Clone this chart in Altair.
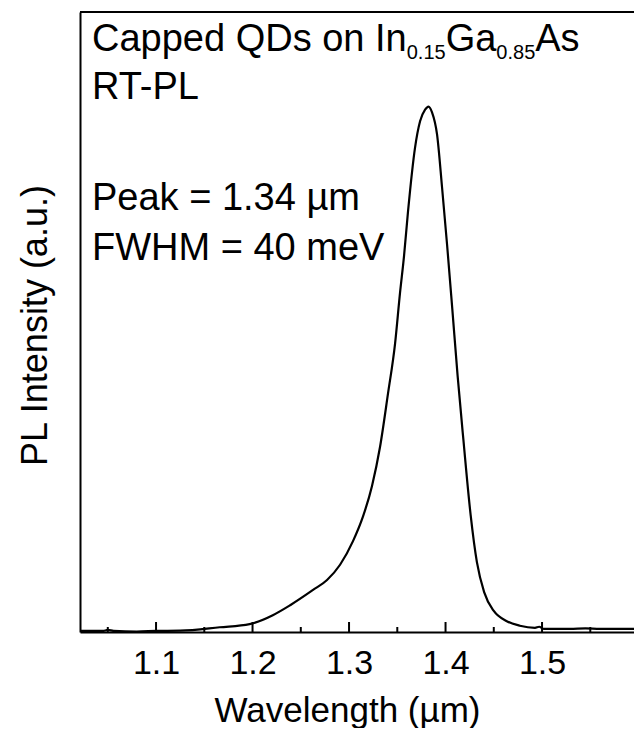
import altair as alt
import pandas as pd

# PL spectrum
wavelength = [1.0212, 1.045, 1.050, 1.056, 1.080, 1.100, 1.125, 1.166, 1.197, 1.221,
              1.239, 1.2627, 1.2772, 1.2907, 1.3041, 1.3145, 1.3238, 1.3321, 1.3404,
              1.3477, 1.3528, 1.3570, 1.3611, 1.3684, 1.3736, 1.3788, 1.3824, 1.3860,
              1.3912, 1.3964, 1.4016, 1.4070, 1.4125, 1.4185, 1.4260, 1.4325, 1.4400,
              1.4500, 1.4630, 1.4770, 1.4927, 1.4970, 1.5020, 1.5135, 1.5290, 1.5450,
              1.5600, 1.5800, 1.5953]
intensity = [0.002, 0.002, 0.004, 0.002, 0.001, 0.002, 0.0025, 0.009, 0.015, 0.032,
             0.051, 0.080, 0.099, 0.128, 0.173, 0.220, 0.278, 0.352, 0.454,
             0.549, 0.645, 0.716, 0.800, 0.922, 0.972, 0.994, 1.000, 0.989,
             0.947, 0.846, 0.737, 0.615, 0.488, 0.366, 0.223, 0.133, 0.076,
             0.040, 0.021, 0.012, 0.008, 0.010, 0.006, 0.006, 0.006, 0.007,
             0.006, 0.006, 0.006]

major_ticks = [1.1, 1.2, 1.3, 1.4, 1.5]
minor_ticks = [1.05, 1.15, 1.25, 1.35, 1.45, 1.55]

x_domain = [1.0212, 1.5953]
y_domain = [0, 1.18]

FONT = "Liberation Sans, Arial, Helvetica, sans-serif"
W, H = 554, 620

spec_df = pd.DataFrame({"wl": wavelength, "I": intensity})
major_df = pd.DataFrame({"wl": major_ticks})
minor_df = pd.DataFrame({"wl": minor_ticks})

xscale = alt.Scale(domain=x_domain, nice=False, zero=False)
yscale = alt.Scale(domain=y_domain, nice=False, zero=False)

xaxis = alt.Axis(
    values=major_ticks, format=".1f", ticks=False, tickSize=0,
    labelFontSize=34, labelFont=FONT, labelColor="black", labelPadding=14,
    domainColor="black", domainWidth=2, grid=False,
    title="Wavelength (µm)", titleFontSize=35, titleFont=FONT,
    titleFontWeight="normal", titleColor="black",
    titleX=267, titleY=89, titleBaseline="alphabetic")
yaxis = alt.Axis(
    labels=False, ticks=False, tickSize=0, grid=False,
    domainColor="black", domainWidth=2,
    title="PL Intensity (a.u.)", titleFontSize=36, titleFont=FONT,
    titleFontWeight="normal", titleColor="black",
    titleX=-45, titleY=313, titleBaseline="middle")

line = alt.Chart(spec_df).mark_line(
    color="black", strokeWidth=2.2, interpolate="monotone", clip=True
).encode(
    x=alt.X("wl:Q", scale=xscale, axis=xaxis),
    y=alt.Y("I:Q", scale=yscale, axis=yaxis),
)

# inward-pointing tick marks on the bottom axis
major = alt.Chart(major_df).mark_rule(color="black", strokeWidth=2).encode(
    x=alt.X("wl:Q", scale=xscale, axis=xaxis),
    y=alt.value(H), y2=alt.value(H - 10),
)
minor = alt.Chart(minor_df).mark_rule(color="black", strokeWidth=2).encode(
    x=alt.X("wl:Q", scale=xscale, axis=xaxis),
    y=alt.value(H), y2=alt.value(H - 5),
)
top_border = alt.Chart(pd.DataFrame({"k": [0]})).mark_rule(
    color="black", strokeWidth=2
).encode(x=alt.value(0), x2=alt.value(W), y=alt.value(0))

# annotation text
S = 38
s = 20
def txt(t, x, y, size):
    return alt.Chart(pd.DataFrame({"t": [t]})).mark_text(
        align="left", baseline="alphabetic", font=FONT, fontSize=size, color="black"
    ).encode(x=alt.value(x), y=alt.value(y), text="t:N")

# Arial advance widths (per 1000 em) to place sub-scripted pieces
adv = {"C": 722, "a": 556, "p": 556, "e": 556, "d": 556, " ": 278, "Q": 778, "D": 722,
       "s": 500, "o": 556, "n": 556, "I": 278, "G": 778, "A": 667, "0": 556, ".": 278,
       "1": 556, "5": 556, "8": 556}
def width(t, size):
    return sum(adv[c] for c in t) * size / 1000.0

ann = []
x0 = 12
y1 = 39
pieces = [("Capped QDs on In", S, 0), ("0.15", s, 8), ("Ga", S, 0), ("0.85", s, 8), ("As", S, 0)]
cx = x0
for t, size, dy in pieces:
    ann.append(txt(t, cx, y1 + dy, size))
    cx += width(t, size)
ann.append(txt("RT-PL", x0, 87, S))
ann.append(txt("Peak = 1.34 µm", x0, 198, S))
ann.append(txt("FWHM = 40 meV", x0, 248, S))

chart = alt.layer(line, major, minor, top_border, *ann).properties(
    width=W, height=H,
    autosize=alt.AutoSizeParams(type="none"),
    padding={"left": 72, "top": 4, "right": 0, "bottom": 96},
).configure_view(stroke=None).configure(background="white")

chart.save("out.html", embed_options={"renderer": "svg", "actions": False})
